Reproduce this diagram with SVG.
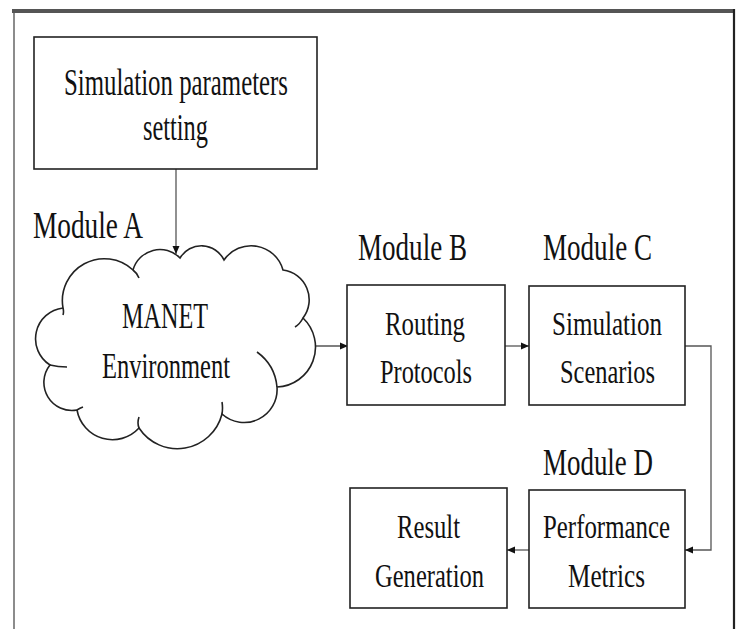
<svg xmlns="http://www.w3.org/2000/svg" width="740" height="629" viewBox="0 0 740 629">
<style>
  .box { fill: #fff; stroke: #222; stroke-width: 1.6; }
  .t { font-family: "Liberation Serif", "Times New Roman", serif; fill: #111; }
  .lbl { font-size: 38px; }
  .bt { font-size: 33px; }
  .conn { fill: none; stroke: #555; stroke-width: 1.3; }
  .cloud { fill: #fff; stroke: #222; stroke-width: 1.6; stroke-linejoin: miter; }
  .tail { fill: none; stroke: #222; stroke-width: 1.6; }
</style>
<defs>
  <marker id="ah" markerUnits="userSpaceOnUse" markerWidth="9" markerHeight="8" refX="8" refY="4" orient="auto">
    <path d="M0,0.5 L8,4 L0,7.5 z" fill="#111"/>
  </marker>
</defs>
<rect x="0" y="0" width="740" height="629" fill="#fff"/>
<g id="frame">
  <rect x="12" y="9" width="723" height="4" fill="#555"/>
  <line x1="14" y1="13" x2="14" y2="629" stroke="#666" stroke-width="1.5"/>
  <line x1="734" y1="9" x2="734" y2="629" stroke="#222" stroke-width="2.2"/>
</g>
<g id="connectors">
  <line class="conn" x1="176" y1="169" x2="176" y2="254" marker-end="url(#ah)"/>
  <line class="conn" x1="313" y1="346" x2="348" y2="346" marker-end="url(#ah)"/>
  <line class="conn" x1="505" y1="346" x2="529" y2="346" marker-end="url(#ah)"/>
  <polyline class="conn" points="685,346 711,346 711,550 685,550" marker-end="url(#ah)"/>
  <line class="conn" x1="529" y1="550" x2="507" y2="550" marker-end="url(#ah)"/>
</g>
<g id="params">
  <rect class="box" x="34" y="37" width="283" height="132"/>
  <text class="t lbl" x="64" y="95" textLength="224" lengthAdjust="spacingAndGlyphs">Simulation parameters</text>
  <text class="t lbl" x="143" y="140" textLength="65" lengthAdjust="spacingAndGlyphs">setting</text>
</g>
<g id="moduleA">
  <text class="t lbl" x="33" y="238" textLength="110" lengthAdjust="spacingAndGlyphs">Module A</text>
  <path class="cloud" d="M 63 308 A 42 42 0 0 1 133 270 A 28 28 0 0 1 180 258 A 25 25 0 0 1 224 260 A 33 33 0 0 1 283 270 A 30 30 0 0 1 303 318 A 40 40 0 0 1 277 387 A 33 33 0 0 1 222 414 A 46 46 0 0 1 139 428 A 36 36 0 0 1 77 410 A 28 28 0 0 1 50 365 A 31 31 0 0 1 63 308 Z"/>
  <path class="tail" d="M 133 270 q 4 3 6 8 M 303 318 q -3 6 -8 9 M 257 352 Q 275 365 277 387 M 222 414 q 1 -6 0 -12 M 139 428 q -2 -5 0 -11 M 77 410 q 3 -2 6 -3 M 50 365 q 8 2 17 2 M 63 308 q 1 4 0 7"/>
  <text class="t" font-size="35" x="122" y="328" textLength="86" lengthAdjust="spacingAndGlyphs">MANET</text>
  <text class="t" font-size="36" x="102" y="378" textLength="128" lengthAdjust="spacingAndGlyphs">Environment</text>
</g>
<g id="moduleB">
  <text class="t lbl" x="358" y="260" textLength="109" lengthAdjust="spacingAndGlyphs">Module B</text>
  <rect class="box" x="347" y="285" width="158" height="120"/>
  <text class="t bt" x="385" y="335" textLength="80" lengthAdjust="spacingAndGlyphs">Routing</text>
  <text class="t bt" x="380" y="383" textLength="92" lengthAdjust="spacingAndGlyphs">Protocols</text>
</g>
<g id="moduleC">
  <text class="t lbl" x="543" y="260" textLength="109" lengthAdjust="spacingAndGlyphs">Module C</text>
  <rect class="box" x="529" y="286" width="156" height="119"/>
  <text class="t bt" x="552" y="335" textLength="110" lengthAdjust="spacingAndGlyphs">Simulation</text>
  <text class="t bt" x="560" y="383" textLength="95" lengthAdjust="spacingAndGlyphs">Scenarios</text>
</g>
<g id="moduleD">
  <text class="t lbl" x="543" y="475" textLength="110" lengthAdjust="spacingAndGlyphs">Module D</text>
  <rect class="box" x="529" y="490" width="156" height="118"/>
  <text class="t bt" x="543" y="538" textLength="127" lengthAdjust="spacingAndGlyphs">Performance</text>
  <text class="t bt" x="568" y="587" textLength="77" lengthAdjust="spacingAndGlyphs">Metrics</text>
</g>
<g id="result">
  <rect class="box" x="350" y="488" width="157" height="120"/>
  <text class="t bt" x="397" y="538" textLength="63" lengthAdjust="spacingAndGlyphs">Result</text>
  <text class="t bt" x="375" y="587" textLength="109" lengthAdjust="spacingAndGlyphs">Generation</text>
</g>
</svg>
